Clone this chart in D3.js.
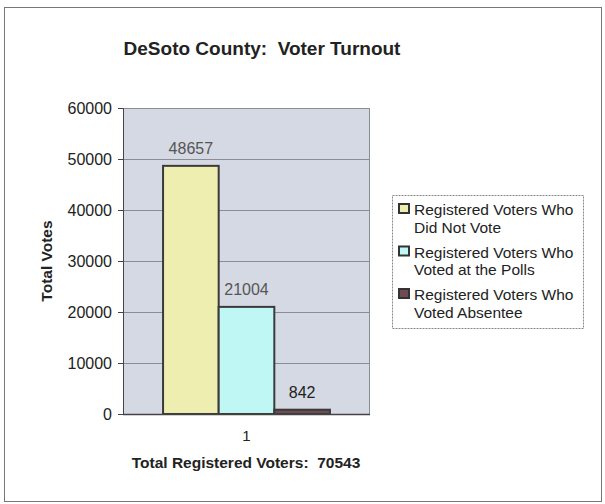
<!DOCTYPE html>
<html><head><meta charset="utf-8">
<script src="https://cdn.jsdelivr.net/npm/d3@7"></script>
<style>body{margin:0;background:#fff;}svg{display:block;} text{font-family:"Liberation Sans",Arial,Helvetica,sans-serif;white-space:pre;}</style>
</head><body><svg id="c" width="605" height="504"></svg>
<script>
const categories = ["1"];
const seriesNames = ["Registered Voters Who Did Not Vote","Registered Voters Who Voted at the Polls","Registered Voters Who Voted Absentee"];
const legendLines = [["Registered Voters Who","Did Not Vote"],["Registered Voters Who","Voted at the Polls"],["Registered Voters Who","Voted Absentee"]];
const values = [48657, 21004, 842];
const colors = ["#eeeeb0","#bff7f5","#6e4c52"];
const yTicks = [0,10000,20000,30000,40000,50000,60000];

const svg = d3.select("#c");
svg.append("rect").attr("x",4.5).attr("y",7.5).attr("width",597).attr("height",494).attr("fill","#fff").attr("stroke","#777").attr("stroke-width",1);

const L=123,R=370,T=108,B=414;
const y = d3.scaleLinear().domain([0,60000]).range([B,T]);
const x0 = d3.scaleBand().domain(categories).range([L,R]).paddingInner(0).paddingOuter(0.24);
const x1 = d3.scaleBand().domain(seriesNames).range([0,x0.bandwidth()]);

svg.append("rect").attr("x",L).attr("y",T).attr("width",R-L).attr("height",B-T).attr("fill","#d5d9e3");
svg.append("g").selectAll("line").data(yTicks.slice(1)).join("line")
  .attr("x1",L).attr("x2",R).attr("y1",d=>y(d)+0.5).attr("y2",d=>y(d)+0.5).attr("stroke","#8a8d96").attr("stroke-width",1);
svg.append("line").attr("x1",L+0.5).attr("x2",L+0.5).attr("y1",T).attr("y2",B).attr("stroke","#8a8d96");
svg.append("line").attr("x1",R-0.5).attr("x2",R-0.5).attr("y1",T).attr("y2",B).attr("stroke","#8a8d96");

const yAxis = d3.axisLeft(y).tickValues(yTicks).tickSize(5).tickFormat(d3.format("d"));
const ga = svg.append("g").attr("transform",`translate(${L},0)`).call(yAxis);
ga.select(".domain").attr("stroke","#444");
ga.selectAll(".tick line").attr("stroke","#444");
ga.selectAll("text").attr("font-size",16).attr("fill","#222").attr("x",-11).attr("font-family",null);

categories.forEach(c=>{
  seriesNames.forEach((s,i)=>{
    const bx = x0(c)+x1(s);
    svg.append("rect").attr("x",bx).attr("y",y(values[i])).attr("width",x1.bandwidth()).attr("height",B-y(values[i]))
      .attr("fill",colors[i]).attr("stroke","#3a3a3a").attr("stroke-width",2);
    svg.append("text").attr("x",bx+x1.bandwidth()/2).attr("y",y(values[i])-12).attr("text-anchor","middle")
      .attr("font-size",16).attr("fill", i==2?"#222":"#555").text(values[i]);
  });
});
svg.append("line").attr("x1",L).attr("x2",R).attr("y1",B+0.5).attr("y2",B+0.5).attr("stroke","#444").attr("stroke-width",1.5);
const xAxis = d3.axisBottom(x0).tickSize(0);
const gx = svg.append("g").attr("transform",`translate(0,${B})`).call(xAxis);
gx.select(".domain").remove();
gx.selectAll("text").attr("font-size",15).attr("fill","#222").attr("dy",null).attr("y",27).attr("font-family",null);

svg.append("text").attr("x",262).attr("y",55).attr("text-anchor","middle").attr("font-size",19).attr("font-weight","bold").attr("fill","#222").text("DeSoto County:  Voter Turnout");
svg.append("text").attr("transform","translate(52,261) rotate(-90)").attr("text-anchor","middle").attr("font-size",15.5).attr("font-weight","bold").attr("fill","#222").text("Total Votes");
svg.append("text").attr("x",246).attr("y",468).attr("text-anchor","middle").attr("font-size",15.5).attr("font-weight","bold").attr("fill","#222").text("Total Registered Voters:  70543");

const lg = svg.append("g");
lg.append("rect").attr("x",392.5).attr("y",195.5).attr("width",191).attr("height",133).attr("fill","#fff").attr("stroke","#888").attr("stroke-dasharray","2,1");
legendLines.forEach((ln,i)=>{
  const gy = 215 + i*42.5;
  lg.append("rect").attr("x",399).attr("y",gy-11).attr("width",10).attr("height",9).attr("fill",colors[i]).attr("stroke","#333").attr("stroke-width",2);
  ln.forEach((t,j)=>{
    lg.append("text").attr("x",414).attr("y",gy+j*17.5).attr("font-size",15.5).attr("fill","#222").text(t);
  });
});
</script></body></html>
